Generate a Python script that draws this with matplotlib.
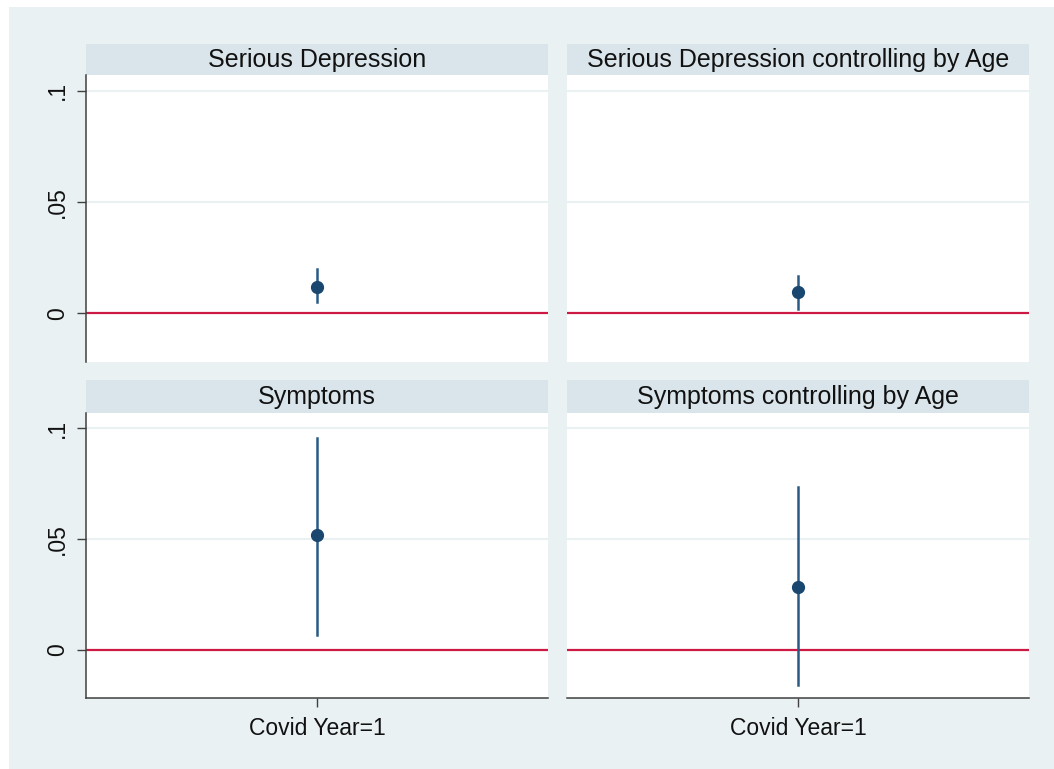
import numpy as np
import matplotlib.pyplot as plt
from matplotlib.patches import Rectangle

# coefficient estimates with 95% confidence bounds, one per panel
titles = ['Serious Depression', 'Serious Depression controlling by Age',
          'Symptoms', 'Symptoms controlling by Age']
coef = [0.0120, 0.0094, 0.0516, 0.0284]
ci_low = [0.0049, 0.0019, 0.0067, -0.0157]
ci_high = [0.0198, 0.0169, 0.0958, 0.0733]
xlabels = ['Covid Year=1']
yticks = [0, 0.05, 0.1]
yticklabels = ['0', '.05', '.1']

plt.rcParams['font.family'] = ['Liberation Sans', 'DejaVu Sans']

W, H = 1054, 769
bg = '#eaf1f3'
strip_col = '#d9e5eb'
navy = '#1a476f'
ci_col = '#2b5a84'
red = '#cc1a44'
axcol = '#404040'

fig = plt.figure(figsize=(W / 100, H / 100), dpi=100)
fig.patch.set_facecolor('white')
fig.add_artist(Rectangle((9 / W, 0), 1 - 9 / W, 1 - 7 / H,
                         transform=fig.transFigure, facecolor=bg,
                         edgecolor='none', zorder=0))


def px(x0, y0, x1, y1):
    # pixel box (top-left origin) -> figure fraction rect
    return [x0 / W, 1 - y1 / H, (x1 - x0) / W, (y1 - y0) / H]


cols = [(86, 548), (567, 1029)]
rows = [(44, 75, 362), (380, 412.7, 698.3)]

for i in range(4):
    r, c = divmod(i, 2)
    x0, x1 = cols[c]
    st, pt, pb = rows[r]

    sax = fig.add_axes(px(x0, st, x1, pt))
    sax.set_facecolor(strip_col)
    sax.set_xticks([])
    sax.set_yticks([])
    for s in sax.spines.values():
        s.set_visible(False)
    sax.text(0.5, 0.47, titles[i], ha='center', va='center',
             fontsize=18, color='#111111', transform=sax.transAxes)

    ax = fig.add_axes(px(x0, pt, x1, pb))
    ax.set_facecolor('white')
    ax.set_xlim(0.5, 1.5)
    ax.set_ylim(-0.0219, 0.107)
    for s in ax.spines.values():
        s.set_visible(False)

    for g in [0.05, 0.1]:
        ax.axhline(g, color=bg, lw=1.5, zorder=1)
    ax.axhline(0, color=red, lw=1.6, zorder=2)

    ax.plot([1, 1], [ci_low[i], ci_high[i]], color=ci_col, lw=1.8, zorder=3)
    ax.plot([1], [coef[i]], 'o', color=navy, ms=8.5, zorder=4)

    if c == 0:
        ax.spines['left'].set_visible(True)
        ax.spines['left'].set_color(axcol)
        ax.spines['left'].set_linewidth(1.1)
        ax.set_yticks(yticks)
        ax.set_yticklabels(yticklabels, rotation=90, va='center')
        ax.tick_params(axis='y', length=6.5, width=1, color=axcol,
                       labelsize=16.5, pad=6, labelcolor='#111111')
    else:
        ax.set_yticks([])

    if r == 1:
        ax.spines['bottom'].set_visible(True)
        ax.spines['bottom'].set_color(axcol)
        ax.spines['bottom'].set_linewidth(1.1)
        ax.set_xticks([1])
        ax.set_xticklabels(xlabels)
        ax.tick_params(axis='x', length=6.5, width=1, color=axcol,
                       labelsize=16.5, pad=7, labelcolor='#111111')
    else:
        ax.set_xticks([])

fig.savefig('out.png', dpi=100, facecolor=fig.get_facecolor())
